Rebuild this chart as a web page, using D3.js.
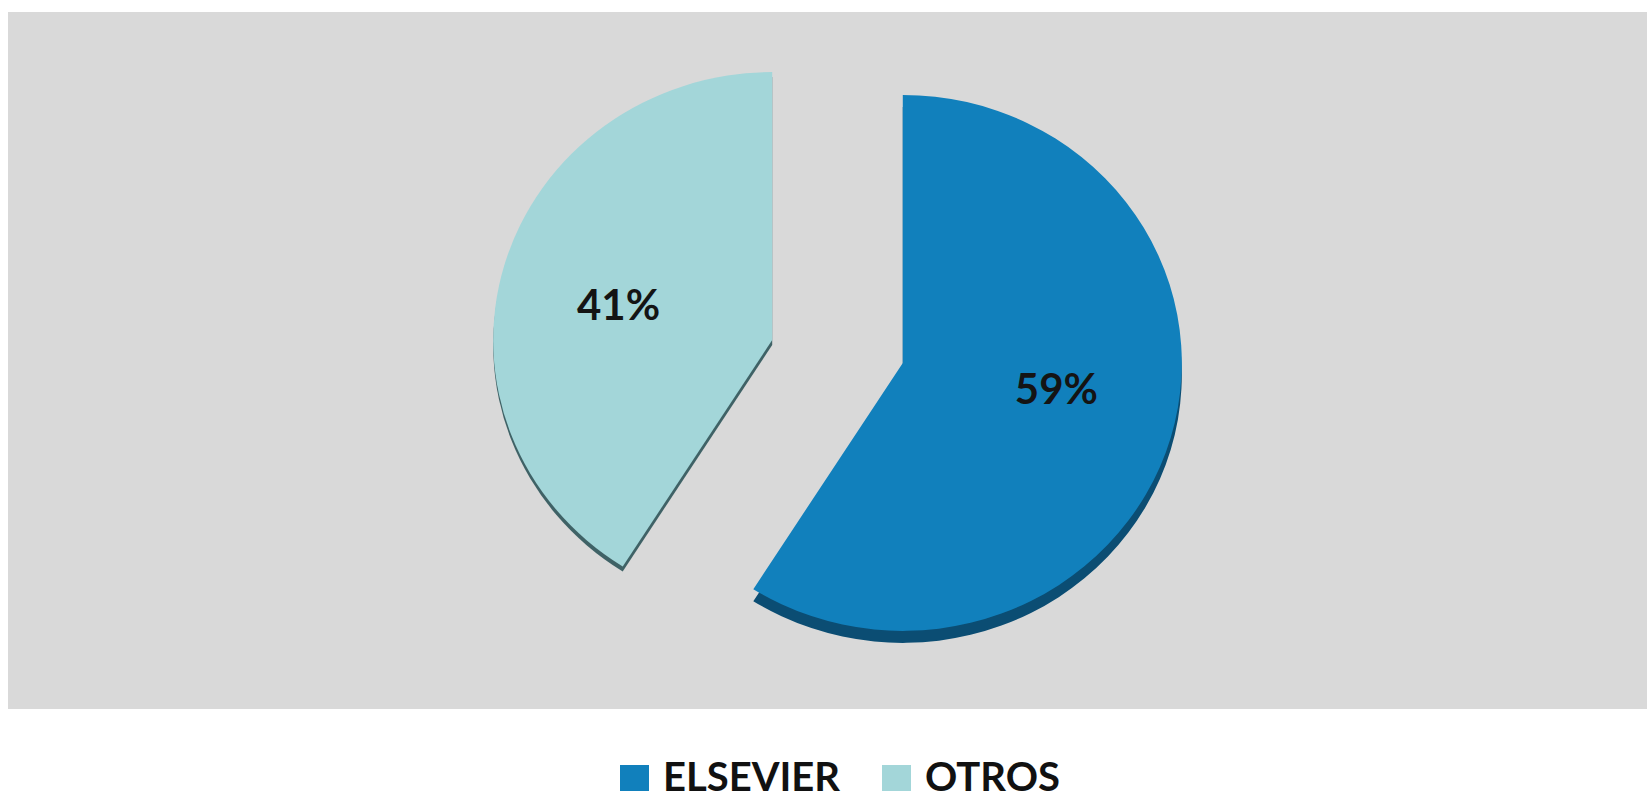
<!DOCTYPE html>
<html>
<head>
<meta charset="utf-8">
<script src="https://cdn.jsdelivr.net/npm/d3@7"></script>
<style>
  html, body { margin: 0; padding: 0; background: #ffffff; }
  svg { display: block; }
</style>
</head>
<body>
<svg id="chart" width="1652" height="799"></svg>
<script>
// ---- data ----
const categories = ["ELSEVIER", "OTROS"];
const values = [59, 41];
const labels = ["59%", "41%"];

// ---- styles ----
const colors = ["#1180bc", "#a3d6d9"];
const sideColors = ["#0b4d73", "#3f6266"];
const depths = [12, 5];
const labelNudgeY = [-18, 7];

const W = 1652, H = 799;
const svg = d3.select("#chart");

// plot area background
svg.append("rect")
  .attr("x", 8).attr("y", 12)
  .attr("width", 1639).attr("height", 697)
  .attr("fill", "#d9d9d9");

const cx = 837.5, cy = 351.5;
const rx = 279, ry = 268;
const sy = ry / rx;
const explode = 68, explodeY = 0.6;

const pie = d3.pie().sort(null).value(d => d.value).startAngle(0).endAngle(2 * Math.PI);
const data = categories.map((c, i) => ({ name: c, value: values[i], label: labels[i], i }));
const arcs = pie(data);

const arc = d3.arc().innerRadius(0).outerRadius(rx);
const labelArc = d3.arc().innerRadius(160).outerRadius(160);

const g = svg.append("g");

arcs.forEach(a => {
  const mid = (a.startAngle + a.endAngle) / 2;
  const ox = Math.sin(mid) * explode;
  const oy = -Math.cos(mid) * explode * explodeY;
  const sg = g.append("g")
    .attr("transform", `translate(${cx + ox},${cy + oy})`);
  const sc = sg.append("g").attr("transform", `scale(1,${sy})`);
  // side (depth)
  sc.append("path")
    .attr("d", arc(a))
    .attr("transform", `translate(0,${depths[a.data.i] / sy})`)
    .attr("fill", sideColors[a.data.i]);
  // top face
  sc.append("path")
    .attr("d", arc(a))
    .attr("fill", colors[a.data.i]);
  const c = labelArc.centroid(a);
  sg.append("text")
    .attr("x", c[0])
    .attr("y", c[1] * sy + labelNudgeY[a.data.i])
    .attr("text-anchor", "middle")
    .attr("dominant-baseline", "central")
    .attr("font-family", "Lato, 'Open Sans', sans-serif")
    .attr("font-weight", "bold")
    .attr("font-size", 42)
    .attr("fill", "#141414")
    .text(a.data.label);
});

// legend
const legend = svg.append("g");
const legendX = [620, 882];
data.forEach((d, i) => {
  const lg = legend.append("g").attr("transform", `translate(${legendX[i]},765)`);
  lg.append("rect")
    .attr("x", 0).attr("y", 0)
    .attr("width", 29).attr("height", 26)
    .attr("fill", colors[i]);
  lg.append("text")
    .attr("x", 43).attr("y", 26)
    .attr("font-family", "Lato, 'Open Sans', sans-serif")
    .attr("font-weight", "bold")
    .attr("font-size", 40)
    .attr("fill", "#111")
    .text(d.name);
});
</script>
</body>
</html>
